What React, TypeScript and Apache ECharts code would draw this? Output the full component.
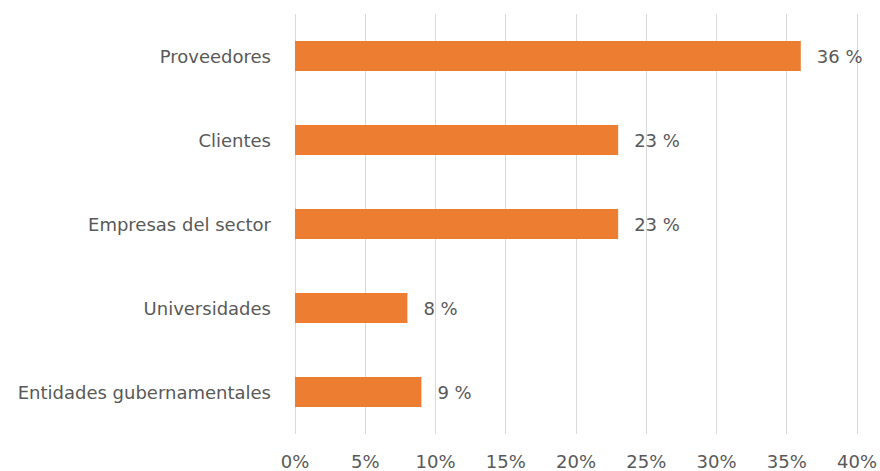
import React, { useEffect, useRef } from "react";
import * as echarts from "echarts";

const categories = [
  "Entidades gubernamentales",
  "Universidades",
  "Empresas del sector",
  "Clientes",
  "Proveedores",
];
const values = [9, 8, 23, 23, 36];
const xTicks = { min: 0, max: 40, interval: 5 };

export default function App() {
  const ref = useRef<HTMLDivElement>(null);
  useEffect(() => {
    if (!ref.current) return;
    const chart = echarts.init(ref.current, undefined, { renderer: "svg" });
    chart.setOption({
      animation: false,
      textStyle: { fontFamily: "DejaVu Sans, sans-serif" },
      grid: { left: 295, right: 22, top: 14, height: 420, containLabel: false },
      xAxis: {
        type: "value",
        min: xTicks.min,
        max: xTicks.max,
        interval: xTicks.interval,
        axisLine: { show: false },
        axisTick: { show: false },
        splitLine: { show: true, lineStyle: { color: "#d9d9d9", width: 1 } },
        axisLabel: {
          formatter: "{value}%",
          color: "#595959",
          fontSize: 18,
          margin: 18,
        },
      },
      yAxis: {
        type: "category",
        data: categories,
        axisLine: { show: false },
        axisTick: { show: false },
        axisLabel: { color: "#595959", fontSize: 18, margin: 24 },
      },
      series: [
        {
          type: "bar",
          data: values,
          barWidth: 30,
          itemStyle: { color: "#ED7D31" },
          label: {
            show: true,
            position: "right",
            distance: 16,
            formatter: "{c} %",
            color: "#595959",
            fontSize: 18,
          },
        },
      ],
    });
    return () => chart.dispose();
  }, []);
  return (
    <div
      ref={ref}
      style={{ position: "absolute", left: 0, top: 0, width: 880, height: 471 }}
    />
  );
}
